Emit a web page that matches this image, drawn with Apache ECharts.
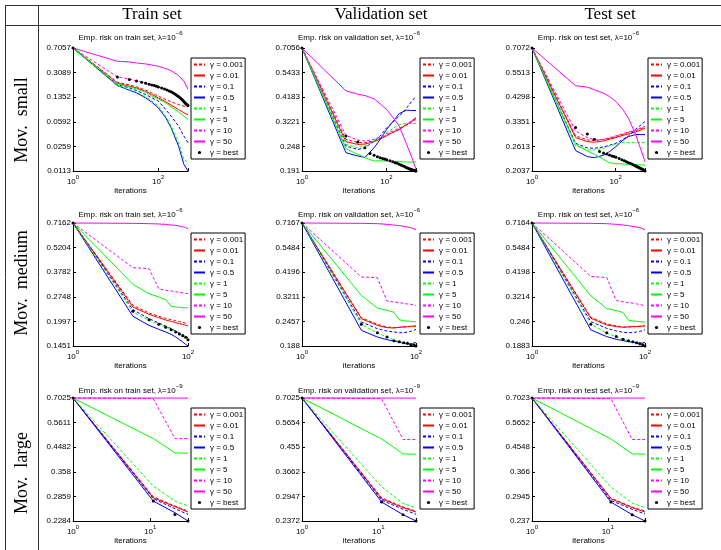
<!DOCTYPE html>
<html>
<head>
<meta charset="utf-8">
<script src="https://cdn.jsdelivr.net/npm/echarts@6.0.0/dist/echarts.min.js"></script>
<style>
body{margin:0;background:#fff;}
#chart{width:721px;height:550px;}
</style>
</head>
<body>
<div id="chart"></div>
<script>
// legend names, order = 0.001, 0.01, 0.1, 0.5, 1, 5, 10, 50, best
const names = ['γ = 0.001','γ = 0.01','γ = 0.1','γ = 0.5','γ = 1','γ = 5','γ = 10','γ = 50','γ = best']
const colors = ['#ff0000','#ff0000','#0000ff','#0000ff','#00ff00','#00ff00','#ff00ff','#ff00ff','#000000']
const dashed = [true,false,true,false,true,false,true,false,false]

// iterations per row (Mov. small / medium / large)
const xSmall = [1,11,21,31,51,71,101,151,201,301,401,501]
const xSmallBest = [1,11,21,31,41,51,61,71,81,91,101,121,141,161,181,201,221,241,261,281,301,321,341,361,381,401,421,441,461,481,501]
const xMedium = [1,11,21,31,41,51,61,71,81,91,100]
const xLarge = [1,11,21,31]

// Mov. small
const smallTrain = [
  [0.7057,0.2233,0.2042,0.1910,0.1708,0.1562,0.1397,0.1249,0.1155,0.1056,0.0999,0.0977],
  [0.7057,0.2183,0.1953,0.1847,0.1633,0.1477,0.1320,0.1155,0.1033,0.0893,0.0799,0.0747],
  [0.7057,0.2065,0.1847,0.1689,0.1477,0.1320,0.1181,0.0893,0.0714,0.0511,0.0365,0.0292],
  [0.7057,0.1997,0.1708,0.1562,0.1320,0.1142,0.0944,0.0675,0.0483,0.0261,0.0141,0.0113],
  [0.7057,0.1997,0.1746,0.1597,0.1366,0.1181,0.0999,0.0714,0.0511,0.0292,0.0167,0.0150],
  [0.7057,0.2135,0.1910,0.1786,0.1597,0.1397,0.1277,0.1117,0.0977,0.0826,0.0714,0.0639],
  [0.7057,0.2670,0.2497,0.2335,0.2183,0.2042,0.1910,0.1746,0.1597,0.1397,0.1181,0.1021],
  [0.7057,0.4514,0.4413,0.4268,0.4128,0.3991,0.3817,0.3530,0.3301,0.2792,0.2309,0.1760],
  [0.7057,0.2670,0.2442,0.2335,0.2233,0.2159,0.2088,0.2042,0.1997,0.1953,0.1910,0.1847,0.1786,0.1727,0.1670,0.1615,0.1562,0.1510,0.1460,0.1412,0.1381,0.1335,0.1291,0.1249,0.1208,0.1168,0.1129,0.1092,0.1068,0.1044,0.1021]
]
const smallVal = [
  [0.7056,0.2671,0.2587,0.2579,0.2634,0.2700,0.2797,0.2897,0.2981,0.3110,0.3221,0.3326],
  [0.7056,0.2606,0.2534,0.2543,0.2606,0.2681,0.2777,0.2897,0.2970,0.3131,0.3256,0.3373],
  [0.7056,0.2489,0.2402,0.2446,0.2624,0.2768,0.3023,0.3244,0.3421,0.3736,0.4010,0.4228],
  [0.7056,0.2319,0.2239,0.2207,0.2446,0.2671,0.2970,0.3279,0.3519,0.3645,0.3632,0.3632],
  [0.7056,0.2534,0.2446,0.2489,0.2624,0.2748,0.2867,0.3023,0.3131,0.3165,0.3165,0.3165],
  [0.7056,0.2420,0.2279,0.2200,0.2123,0.2131,0.2123,0.2116,0.2109,0.2101,0.2101,0.2101],
  [0.7056,0.2787,0.2652,0.2624,0.2671,0.2748,0.2837,0.2939,0.3012,0.3131,0.3232,0.3326],
  [0.7056,0.4474,0.4319,0.4258,0.4110,0.3898,0.3671,0.3326,0.3076,0.2534,0.2200,0.1944],
  [0.7056,0.2768,0.2597,0.2446,0.2303,0.2255,0.2223,0.2200,0.2184,0.2169,0.2153,0.2131,0.2109,0.2086,0.2072,0.2050,0.2035,0.2021,0.2007,0.1993,0.1979,0.1972,0.1958,0.1951,0.1944,0.1937,0.1930,0.1923,0.1917,0.1917,0.1910]
]
const smallTest = [
  [0.7072,0.2906,0.2790,0.2771,0.2799,0.2837,0.2886,0.2955,0.3005,0.3067,0.3130,0.3173],
  [0.7072,0.2857,0.2743,0.2725,0.2762,0.2809,0.2857,0.2925,0.2965,0.3025,0.3088,0.3140],
  [0.7072,0.2697,0.2573,0.2564,0.2599,0.2643,0.2697,0.2809,0.2906,0.3109,0.3249,0.3361],
  [0.7072,0.2504,0.2356,0.2332,0.2388,0.2479,0.2607,0.2790,0.2886,0.2945,0.2945,0.2945],
  [0.7072,0.2625,0.2521,0.2521,0.2564,0.2625,0.2670,0.2716,0.2716,0.2716,0.2716,0.2716],
  [0.7072,0.2670,0.2495,0.2412,0.2293,0.2217,0.2194,0.2187,0.2180,0.2172,0.2165,0.2165],
  [0.7072,0.3057,0.2857,0.2790,0.2809,0.2857,0.2906,0.2975,0.3025,0.3088,0.3151,0.3194],
  [0.7072,0.4826,0.4761,0.4634,0.4480,0.4331,0.4117,0.3783,0.3476,0.2935,0.2521,0.2239],
  [0.7072,0.3162,0.2965,0.2809,0.2479,0.2446,0.2421,0.2396,0.2372,0.2356,0.2340,0.2309,0.2285,0.2262,0.2239,0.2217,0.2202,0.2187,0.2172,0.2158,0.2143,0.2129,0.2122,0.2107,0.2100,0.2086,0.2079,0.2072,0.2058,0.2051,0.2037]
]

// Mov. medium
const mediumTrain = [
  [0.7162,0.2460,0.2227,0.2133,0.2078,0.2042,0.2016,0.1990,0.1973,0.1948,0.1922],
  [0.7162,0.2407,0.2189,0.2096,0.2033,0.1998,0.1964,0.1939,0.1922,0.1897,0.1881],
  [0.7162,0.2325,0.2069,0.1956,0.1881,0.1817,0.1763,0.1718,0.1681,0.1645,0.1617],
  [0.7162,0.2133,0.1897,0.1801,0.1740,0.1688,0.1631,0.1575,0.1528,0.1482,0.1451],
  [0.7162,0.2256,0.2025,0.1922,0.1857,0.1801,0.1755,0.1703,0.1659,0.1617,0.1582],
  [0.7162,0.3231,0.2862,0.2741,0.2648,0.2428,0.2407,0.2397,0.2386,0.2386,0.2376],
  [0.7162,0.4011,0.3959,0.3054,0.2989,0.2963,0.2937,0.2912,0.2899,0.2874,0.2862],
  [0.7162,0.7131,0.7100,0.7070,0.7039,0.6978,0.6948,0.6888,0.6829,0.6741,0.6654],
  [0.7162,0.2276,0.2042,0.1922,0.1849,0.1793,0.1740,0.1696,0.1659,0.1624,0.1575]
]
const mediumVal = [
  [0.7167,0.2558,0.2380,0.2312,0.2295,0.2303,0.2312,0.2320,0.2329,0.2329,0.2329],
  [0.7167,0.2531,0.2354,0.2295,0.2287,0.2303,0.2312,0.2320,0.2329,0.2337,0.2337],
  [0.7167,0.2441,0.2270,0.2213,0.2189,0.2174,0.2174,0.2189,0.2205,0.2229,0.2253],
  [0.7167,0.2229,0.2073,0.2014,0.1985,0.1957,0.1935,0.1921,0.1928,0.1942,0.1950],
  [0.7167,0.2380,0.2166,0.2073,0.2014,0.1971,0.1950,0.1935,0.1928,0.1921,0.1914],
  [0.7167,0.3262,0.2843,0.2772,0.2712,0.2503,0.2476,0.2467,0.2459,0.2450,0.2441],
  [0.7167,0.3983,0.3954,0.3067,0.3034,0.3012,0.2990,0.2969,0.2958,0.2937,0.2926],
  [0.7167,0.7141,0.7115,0.7063,0.7012,0.6961,0.6912,0.6862,0.6812,0.6739,0.6666],
  [0.7167,0.2380,0.2174,0.2073,0.1992,0.1971,0.1950,0.1935,0.1907,0.1900,0.1880]
]
const mediumTest = [
  [0.7164,0.2573,0.2393,0.2341,0.2316,0.2316,0.2325,0.2325,0.2333,0.2333,0.2341],
  [0.7164,0.2545,0.2367,0.2325,0.2308,0.2316,0.2325,0.2325,0.2333,0.2341,0.2350],
  [0.7164,0.2454,0.2282,0.2217,0.2186,0.2177,0.2177,0.2193,0.2209,0.2225,0.2250],
  [0.7164,0.2242,0.2085,0.2025,0.1996,0.1974,0.1960,0.1946,0.1939,0.1946,0.1960],
  [0.7164,0.2393,0.2162,0.2085,0.2025,0.1996,0.1967,0.1953,0.1939,0.1932,0.1925],
  [0.7164,0.3246,0.2828,0.2767,0.2707,0.2490,0.2472,0.2464,0.2454,0.2446,0.2437],
  [0.7164,0.4008,0.3964,0.3086,0.3041,0.3019,0.2998,0.2975,0.2954,0.2933,0.2911],
  [0.7164,0.7138,0.7112,0.7060,0.7009,0.6959,0.6909,0.6859,0.6810,0.6736,0.6664],
  [0.7164,0.2384,0.2177,0.2085,0.2025,0.1996,0.1974,0.1953,0.1932,0.1911,0.1883]
]

// Mov. large
const largeTrain = [
  [0.7025,0.2851,0.2618,0.2502],
  [0.7025,0.2825,0.2603,0.2479],
  [0.7025,0.2799,0.2556,0.2426],
  [0.7025,0.2740,0.2464,0.2284],
  [0.7025,0.3142,0.2740,0.2618],
  [0.7025,0.4850,0.4256,0.4244],
  [0.7025,0.6982,0.4850,0.4850],
  [0.7025,0.7022,0.7020,0.7020],
  [0.7025,0.2740,0.2426,0.2284]
]
const largeVal = [
  [0.7025,0.2913,0.2683,0.2590],
  [0.7025,0.2887,0.2667,0.2568],
  [0.7025,0.2853,0.2629,0.2516],
  [0.7025,0.2804,0.2508,0.2372],
  [0.7025,0.3209,0.2771,0.2667],
  [0.7025,0.4896,0.4291,0.4278],
  [0.7025,0.6984,0.4868,0.4868],
  [0.7025,0.7022,0.7020,0.7020],
  [0.7025,0.2804,0.2508,0.2372]
]
const largeTest = [
  [0.7023,0.2902,0.2681,0.2588],
  [0.7023,0.2885,0.2665,0.2566],
  [0.7023,0.2843,0.2627,0.2521],
  [0.7023,0.2801,0.2506,0.2370],
  [0.7023,0.3198,0.2778,0.2665],
  [0.7023,0.4894,0.4288,0.4276],
  [0.7023,0.6982,0.4866,0.4866],
  [0.7023,0.7020,0.7018,0.7018],
  [0.7023,0.2801,0.2506,0.2370]
]

// y tick labels, bottom to top
const smallTrainTicks = ['0.0113','0.0259','0.0592','0.1352','0.3089','0.7057']
const smallValTicks = ['0.191','0.248','0.3221','0.4183','0.5433','0.7056']
const smallTestTicks = ['0.2037','0.2613','0.3351','0.4298','0.5513','0.7072']
const mediumTrainTicks = ['0.1451','0.1997','0.2748','0.3782','0.5204','0.7162']
const mediumValTicks = ['0.188','0.2457','0.3211','0.4196','0.5484','0.7167']
const mediumTestTicks = ['0.1883','0.246','0.3214','0.4198','0.5484','0.7164']
const largeTrainTicks = ['0.2284','0.2859','0.358','0.4482','0.5611','0.7025']
const largeValTicks = ['0.2372','0.2947','0.3662','0.455','0.5654','0.7025']
const largeTestTicks = ['0.237','0.2945','0.366','0.4548','0.5652','0.7023']

const panelData = [smallTrain, smallVal, smallTest, mediumTrain, mediumVal, mediumTest, largeTrain, largeVal, largeTest]
const panelTicks = [smallTrainTicks, smallValTicks, smallTestTicks, mediumTrainTicks, mediumValTicks, mediumTestTicks, largeTrainTicks, largeValTicks, largeTestTicks]
const rowX = [xSmall, xMedium, xLarge]
const rowBestX = [xSmallBest, xMedium, xLarge]
const rowXMax = [501, 100, 31]
const rowXStep = [2, 2, 1]
const rowLambda = ['−6', '−6', '−9']
const setNames = ['train', 'validation', 'test']
const colHeaders = ['Train set', 'Validation set', 'Test set']
const rowHeaders = ['Mov.  small', 'Mov.  medium', 'Mov.  large']

// layout
const colLeft = [73, 302, 532]
const colWidth = [115, 114, 113]
const rowTop = [48, 223, 398]
const plotH = 123
const titleY = [36, 213, 389]
const legendLeft = [191, 420, 648]
const legendTop = [58, 233, 408]
const headerX = [152, 381, 610]
const rowLabelY = [120, 283, 473]

const SANS = '"Liberation Sans", Arial, sans-serif'
const SERIF = '"Liberation Serif", "Times New Roman", serif'

const chart = echarts.init(document.getElementById('chart'))

let grid = [], xAxis = [], yAxis = [], series = [], legend = []
let graphic = [
  {type:'line', shape:{x1:5, y1:5.5, x2:721, y2:5.5}, style:{stroke:'#333', lineWidth:1}},
  {type:'line', shape:{x1:5, y1:25.5, x2:721, y2:25.5}, style:{stroke:'#333', lineWidth:1}},
  {type:'line', shape:{x1:5.5, y1:5, x2:5.5, y2:550}, style:{stroke:'#333', lineWidth:1}},
  {type:'line', shape:{x1:38.5, y1:5, x2:38.5, y2:550}, style:{stroke:'#333', lineWidth:1}}
]

for (let c = 0; c < 3; c++) {
  graphic.push({type:'text', x: headerX[c], y: 15,
    style:{text: colHeaders[c], align:'center', verticalAlign:'middle', fontSize:17, fontFamily:SERIF, fill:'#000'}})
}
for (let r = 0; r < 3; r++) {
  graphic.push({type:'text', x: 22, y: rowLabelY[r], rotation: Math.PI/2,
    style:{text: rowHeaders[r], align:'center', verticalAlign:'middle', fontSize:18, fontFamily:SERIF, fill:'#000'}})
}

// legend entries: line only, except the "best" entry which is a dot
const legendData = names.map((n, k) => k === 8
  ? {name:n, itemStyle:{opacity:1}}
  : {name:n})

for (let r = 0; r < 3; r++) {
  for (let c = 0; c < 3; c++) {
    const i = r*3 + c
    const ticks = panelTicks[i]
    const lo = Math.log10(parseFloat(ticks[0]))
    const hi = Math.log10(parseFloat(ticks[5]))
    const step = (hi - lo) / 5

    grid.push({left: colLeft[c], top: rowTop[r], width: colWidth[c], height: plotH})

    xAxis.push({
      type:'value', gridIndex:i, min:0, max:Math.log10(rowXMax[r]), interval:rowXStep[r],
      axisLine:{show:true, onZero:false, lineStyle:{color:'#000', width:1}},
      axisTick:{show:true, inside:true, length:3, lineStyle:{color:'#000'}},
      splitLine:{show:false},
      axisLabel:{
        margin:3, color:'#000',
        formatter: v => Math.abs(v - Math.round(v)) < 1e-6 ? '{b|10}{s|' + Math.round(v) + '}' : '',
        rich:{
          b:{fontSize:8, fontFamily:SANS, color:'#000', lineHeight:12, verticalAlign:'bottom'},
          s:{fontSize:6, fontFamily:SANS, color:'#000', lineHeight:12, verticalAlign:'top'}
        }
      },
      name:'iterations', nameLocation:'middle', nameGap:11,
      nameTextStyle:{fontSize:8, fontFamily:SANS, color:'#000'}
    })

    yAxis.push({
      type:'value', gridIndex:i, min:lo, max:hi, interval:step,
      axisLine:{show:true, lineStyle:{color:'#000', width:1}},
      axisTick:{show:true, inside:true, length:3, lineStyle:{color:'#000'}},
      splitLine:{show:false},
      axisLabel:{
        margin:2, fontSize:8, fontFamily:SANS, color:'#000',
        formatter: v => {
          const k = (v - lo) / step
          const j = Math.round(k)
          return Math.abs(k - j) < 0.02 && ticks[j] ? ticks[j] : ''
        }
      }
    })

    const vals = panelData[i]
    for (let k = 0; k < 9; k++) {
      const xs = k === 8 ? rowBestX[r] : rowX[r]
      const data = xs.map((x, j) => [Math.log10(x), Math.log10(vals[k][j])])
      if (k === 8) {
        series.push({type:'line', name:names[k], xAxisIndex:i, yAxisIndex:i, data,
          symbol:'circle', symbolSize:3, showSymbol:true, clip:false,
          lineStyle:{opacity:0, width:1, color:'#000'}, itemStyle:{color:'#000'},
          silent:true, animation:false, z:5})
      } else {
        series.push({type:'line', name:names[k], xAxisIndex:i, yAxisIndex:i, data,
          symbol:'none', clip:false,
          lineStyle:{color:colors[k], width:1, type: dashed[k] ? [3, 2] : 'solid'},
          itemStyle:{color:colors[k]},
          silent:true, animation:false, z:3})
      }
    }

    legend.push({
      data:legendData, orient:'vertical', left:legendLeft[c], top:legendTop[r],
      padding:[2, 2, 2, 2], itemGap:2, itemWidth:11, itemHeight:4,
      backgroundColor:'#fff', borderColor:'#000', borderWidth:1,
      selectedMode:false,
      itemStyle:{opacity:0},
      textStyle:{fontSize:8, lineHeight:9, fontFamily:SANS, color:'#000'}
    })

    graphic.push({type:'text', x: colLeft[c] + colWidth[c]/2, y: titleY[r],
      style:{
        text:'{a|Emp. risk on ' + setNames[c] + ' set, λ=10}{s|' + rowLambda[r] + '}',
        align:'center', verticalAlign:'middle',
        rich:{
          a:{fontSize:8, fontFamily:SANS, fill:'#000', lineHeight:12, verticalAlign:'bottom'},
          s:{fontSize:6, fontFamily:SANS, fill:'#000', lineHeight:12, verticalAlign:'top'}
        }
      }})
  }
}

chart.setOption({
  animation:false,
  backgroundColor:'#fff',
  grid, xAxis, yAxis, series, legend, graphic
})
</script>
</body>
</html>
